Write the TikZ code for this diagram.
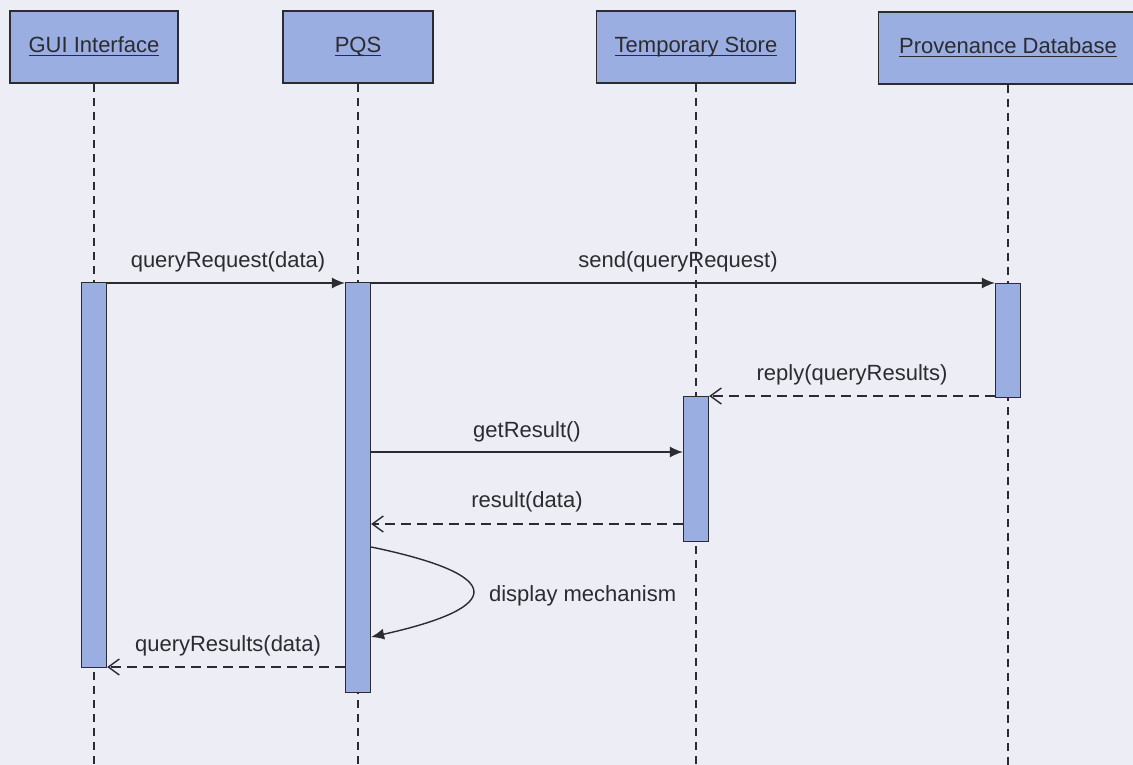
\documentclass[tikz,border=0pt]{standalone}
\usepackage{fontspec}
\setmainfont{Liberation Sans}
\usetikzlibrary{arrows.meta}
\definecolor{bg}{HTML}{EDEDF6}
\definecolor{boxfill}{HTML}{9BAEE1}
\definecolor{ink}{HTML}{2B2B30}
\newcommand\ulname[1]{\setbox0\hbox{#1}\rlap{\rule[-4pt]{\wd0}{1.4pt}}\box0}
\begin{document}
\begin{tikzpicture}[x=1pt,y=-1pt,
  obj/.style={draw=ink, line width=1.7pt, fill=boxfill, minimum height=72pt, inner sep=0pt,
    text=ink, text height=16pt, text depth=5pt, font=\fontsize{22}{26}\selectfont},
  actbar/.style={draw=ink, line width=1.3pt, fill=boxfill, minimum width=25pt, inner sep=0pt, anchor=north},
  life/.style={draw=ink, line width=1.4pt, dash pattern=on 8pt off 6pt},
  sync/.style={draw=ink, line width=1.4pt, -{Latex[length=13pt,width=11pt]}},
  ret/.style={draw=ink, line width=1.4pt, dash pattern=on 10pt off 6pt,
    -{Straight Barb[length=11pt,width=16pt,line width=1.4pt]}},
  lbl/.style={text=ink, font=\fontsize{22}{26}\selectfont, inner sep=0pt}]
\useasboundingbox (0,0) rectangle (1133,765);
\fill[bg] (0,0) rectangle (1133,765);
% objects
\node[obj, minimum width=168pt] (gui) at (94,47) {\ulname{GUI Interface}};
\node[obj, minimum width=150pt] (pqs) at (358,47) {\ulname{PQS}};
\node[obj, minimum width=199pt] (tmp) at (696,47) {\ulname{Temporary Store}};
\node[obj, minimum width=259pt] (prov) at (1008,48) {\ulname{Provenance Database}};
% lifeline ends
\coordinate (bottom) at (0,770);
\draw[life] (gui.south) -- (gui.south |- bottom);
\draw[life] (pqs.south) -- (pqs.south |- bottom);
\draw[life] (tmp.south) -- (tmp.south |- bottom);
\draw[life] (prov.south) -- (prov.south |- bottom);
% activation bars
\node[actbar, minimum height=385pt] (guibar) at (94,282) {};
\node[actbar, minimum height=410pt] (pqsbar) at (358,282) {};
\node[actbar, minimum height=114pt] (provbar) at (1008,283) {};
\node[actbar, minimum height=145pt] (tmpbar) at (696,396) {};
% message levels
\coordinate (y1) at (0,283);
\coordinate (y2) at (0,396);
\coordinate (y3) at (0,452);
\coordinate (y4) at (0,524);
\coordinate (y5) at (0,547);
\coordinate (y6) at (0,637);
\coordinate (y7) at (0,667);
% messages
\draw[sync] (guibar.east |- y1) -- node[lbl, midway, anchor=base, yshift=16pt, xshift=2pt] {queryRequest(data)} (pqsbar.west |- y1);
\draw[sync] (pqsbar.east |- y1) -- node[lbl, midway, anchor=base, yshift=16pt, xshift=-5pt] {send(queryRequest)} (provbar.west |- y1);
\draw[ret] (provbar.west |- y2) -- node[lbl, midway, anchor=base, yshift=16pt] {reply(queryResults)} (tmpbar.east |- y2);
\draw[sync] (pqsbar.east |- y3) -- node[lbl, midway, anchor=base, yshift=15pt] {getResult()} (tmpbar.west |- y3);
\draw[ret] (tmpbar.west |- y4) -- node[lbl, midway, anchor=base, yshift=17pt] {result(data)} (pqsbar.east |- y4);
\draw[sync] (pqsbar.east |- y5) .. controls +(135,28) and +(135,-30) .. node[lbl, pos=0.5, anchor=base west, xshift=16pt, yshift=-10pt] {display mechanism} (pqsbar.east |- y6);
\draw[ret] (pqsbar.west |- y7) -- node[lbl, midway, anchor=base, yshift=16pt, xshift=2pt] {queryResults(data)} (guibar.east |- y7);
\end{tikzpicture}
\end{document}
